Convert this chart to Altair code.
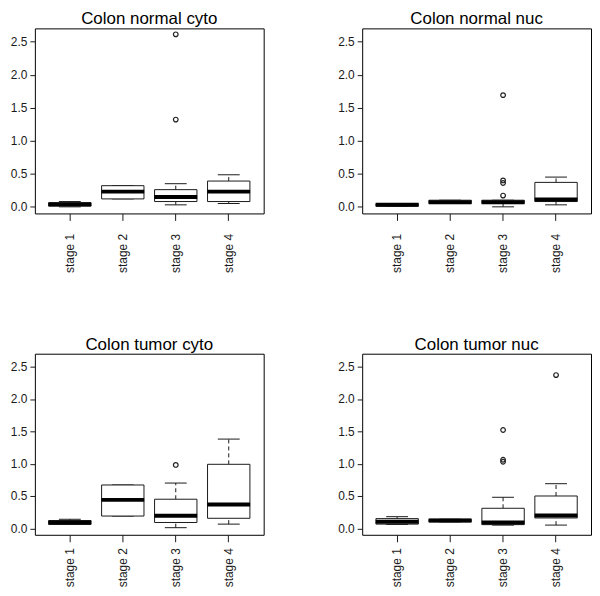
import altair as alt
import pandas as pd

panels = ["Colon normal cyto", "Colon normal nuc", "Colon tumor cyto", "Colon tumor nuc"]
stages = ["stage 1", "stage 2", "stage 3", "stage 4"]

# five-number summaries (rows = panels, cols = stages)
whisker_lo = [
    [0.00, 0.12, 0.03, 0.05],
    [0.01, 0.05, 0.00, 0.03],
    [0.06, 0.19, 0.01, 0.065],
    [0.06, 0.10, 0.05, 0.05],
]
box_q1 = [
    [0.01, 0.12, 0.08, 0.08],
    [0.01, 0.05, 0.05, 0.08],
    [0.06, 0.19, 0.09, 0.155],
    [0.065, 0.10, 0.057, 0.16],
]
medians = [
    [0.04, 0.23, 0.15, 0.23],
    [0.03, 0.07, 0.07, 0.11],
    [0.09, 0.44, 0.195, 0.37],
    [0.10, 0.12, 0.09, 0.20],
]
box_q3 = [
    [0.06, 0.32, 0.26, 0.39],
    [0.05, 0.10, 0.10, 0.37],
    [0.12, 0.67, 0.45, 0.99],
    [0.15, 0.14, 0.31, 0.50],
]
whisker_hi = [
    [0.08, 0.32, 0.35, 0.485],
    [0.05, 0.10, 0.10, 0.45],
    [0.14, 0.67, 0.70, 1.38],
    [0.18, 0.14, 0.48, 0.69],
]

# outliers
out_panel = [0, 0, 1, 1, 1, 1, 2, 3, 3, 3, 3]
out_stage = [2, 2, 2, 2, 2, 2, 2, 2, 2, 2, 3]
out_value = [2.61, 1.32, 1.69, 0.40, 0.36, 0.17, 0.98, 1.52, 1.06, 1.03, 2.37]

y_ticks = [0.0, 0.5, 1.0, 1.5, 2.0, 2.5]

rows = []
for p, name in enumerate(panels):
    for s, st in enumerate(stages):
        rows.append(dict(panel=name, stage=st, lo=whisker_lo[p][s], q1=box_q1[p][s],
                         med=medians[p][s], q3=box_q3[p][s], hi=whisker_hi[p][s]))
stats = pd.DataFrame(rows)
outs = pd.DataFrame(dict(panel=[panels[i] for i in out_panel],
                         stage=[stages[i] for i in out_stage],
                         value=out_value))

FONT = "Liberation Sans"
INK = "#1a1a1a"

xscale = alt.Scale(domain=stages, paddingInner=0, paddingOuter=0.16)
yscale = alt.Scale(domain=[-0.1, 2.7], nice=False, zero=False)
yaxis = alt.Axis(title=None, values=y_ticks, format=".1f", tickSize=5, labelPadding=3,
                 domain=False, grid=False, labelFontSize=12, labelFont=FONT,
                 labelColor=INK, tickColor=INK, minExtent=26, maxExtent=26)


def make_xaxis(pad):
    return alt.Axis(title=None, labelAngle=270, tickSize=7, labelPadding=pad, domain=False,
                    grid=False, labelFontSize=12, labelFont=FONT, labelColor=INK,
                    tickColor=INK)


def panel(name, w, h, pad):
    xaxis = make_xaxis(pad)
    d = stats[stats.panel == name]
    o = outs[outs.panel == name]
    base = alt.Chart(d).encode(x=alt.X("stage:N", scale=xscale, axis=xaxis))
    upper = base.mark_rule(color=INK, strokeWidth=1, strokeDash=[4, 3], opacity=1).encode(
        y=alt.Y("q3:Q", scale=yscale, axis=yaxis), y2="hi:Q")
    lower = base.mark_rule(color=INK, strokeWidth=1, strokeDash=[4, 3], opacity=1).encode(
        y=alt.Y("lo:Q", scale=yscale, axis=yaxis), y2="q1:Q")
    cap_hi = base.mark_tick(color=INK, size=22, thickness=1, opacity=1).encode(
        y=alt.Y("hi:Q", scale=yscale, axis=yaxis))
    cap_lo = base.mark_tick(color=INK, size=22, thickness=1, opacity=1).encode(
        y=alt.Y("lo:Q", scale=yscale, axis=yaxis))
    box = base.mark_bar(width={"band": 0.8}, fill="white", stroke=INK, strokeWidth=1,
                        opacity=1).encode(
        y=alt.Y("q1:Q", scale=yscale, axis=yaxis), y2="q3:Q")
    med = base.mark_tick(color="black", size=43, thickness=4, opacity=1).encode(
        y=alt.Y("med:Q", scale=yscale, axis=yaxis))
    pts = alt.Chart(o).mark_point(shape="circle", filled=False, size=22, color="#222222",
                                  strokeWidth=1.2, opacity=1).encode(
        x=alt.X("stage:N", scale=xscale, axis=xaxis),
        y=alt.Y("value:Q", scale=yscale, axis=yaxis))
    return alt.layer(upper, lower, cap_hi, cap_lo, box, med, pts).properties(
        width=w, height=h,
        title=alt.TitleParams(name, fontSize=17, fontWeight="normal", font=FONT,
                              color="black", anchor="middle", offset=0))


top = alt.hconcat(panel(panels[0], 230, 186, 13), panel(panels[1], 230, 186, 13), spacing=71)
bottom = alt.hconcat(panel(panels[2], 230, 182, 6), panel(panels[3], 230, 182, 6), spacing=71)
chart = alt.vconcat(top, bottom, spacing=62).properties(padding=0).configure(
    background="white", view=alt.ViewConfig(stroke="black", strokeWidth=1))

chart.save("out.html", embed_options={"renderer": "svg", "actions": False})
